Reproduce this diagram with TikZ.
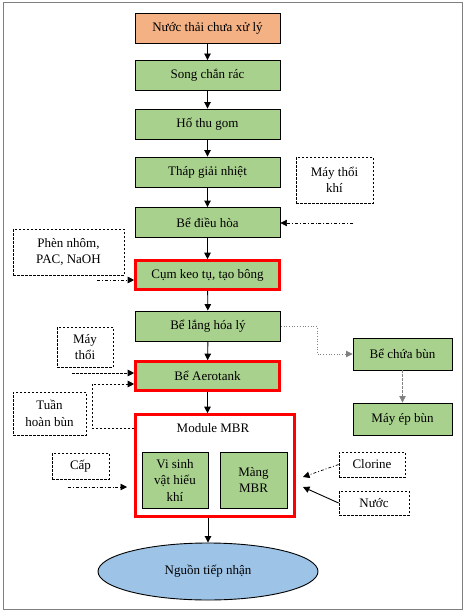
\documentclass[tikz,border=0pt]{standalone}
\usepackage{fontspec}
\setmainfont{Liberation Serif}
\usetikzlibrary{shapes.geometric,arrows.meta}
\definecolor{boxgreen}{HTML}{A9D18E}
\definecolor{srcorange}{HTML}{F4B183}
\definecolor{sinkblue}{HTML}{9DC3E6}
\begin{document}
\begin{tikzpicture}[x=1pt,y=-1pt,
    every node/.style={font=\fontsize{13}{16.5}\selectfont},
    box/.style={draw,fill=boxgreen,line width=0.9pt,minimum width=145pt,minimum height=30pt,inner sep=1pt,align=center},
    hotbox/.style={box,draw=red,line width=2.6pt,minimum width=144pt,minimum height=29pt},
    note/.style={draw,dash pattern=on 2.5pt off 1.5pt,line width=0.8pt,align=center,inner sep=1pt},
    flow/.style={-{Triangle[length=6.5pt,width=6.5pt]},line width=0.9pt},
    feed/.style={flow,dash dot,line width=0.7pt},
    slack/.style={flow,dash pattern=on 2.5pt off 1.5pt,line width=0.7pt}]
      \useasboundingbox (0,0) rectangle (466,615);
      \draw[gray,line width=1pt] (3,3) rectangle (462,609);
      \draw
        (207.5,28) node[box,fill=srcorange] (src){Nước thải chưa xử lý}
        (207.5,75.5) node[box] (song){Song chắn rác}
        (207.5,124) node[box] (hothu){Hố thu gom}
        (207.5,172) node[box] (thap){Tháp giải nhiệt}
        (207.5,222.5) node[box] (dieuhoa){Bể điều hòa}
        (207.5,275) node[hotbox] (keotu){Cụm keo tụ, tạo bông}
        (208,326) node[box] (lang){Bể lắng hóa lý}
        (207.5,376) node[hotbox] (aero){Bể Aerotank}
        (215,465.5) node[draw=red,fill=white,line width=2.6pt,minimum width=159pt,minimum height=102pt] (mbr){}
        (213,428) node (mbrlabel){Module MBR}
        (175,480) node[box,minimum width=66pt,minimum height=56pt] (visinh){Vi sinh\\vật hiếu\\khí}
        (253.5,480) node[box,minimum width=67pt,minimum height=56pt] (mang){Màng\\MBR}
        (208,571.5) node[ellipse,draw,fill=sinkblue,line width=0.9pt,minimum width=220pt,minimum height=57pt] (nguon){Nguồn tiếp nhận}
        (334.5,180) node[note,minimum width=77pt,minimum height=46pt] (maythoikhi){Máy thổi\\khí}
        (402.5,354) node[box,minimum width=99pt,minimum height=32pt] (chuabun){Bể chứa bùn}
        (402.5,419) node[box,minimum width=99pt,minimum height=32pt] (epbun){Máy ép bùn}
        (372,464.5) node[note,minimum width=66pt,minimum height=25pt] (clorine){Clorine}
        (374,503) node[note,minimum width=70pt,minimum height=24pt] (nuoc){Nước}
        (68.5,252) node[note,minimum width=111pt,minimum height=46pt] (phen){Phèn nhôm,\\PAC, NaOH}
        (85,347) node[note,minimum width=56pt,minimum height=40pt] (maythoi){Máy\\thổi}
        (49.5,413.5) node[note,minimum width=73pt,minimum height=43pt] (tuanhoan){Tuần\\hoàn bùn}
        (80.5,466) node[note,minimum width=57pt,minimum height=26pt] (cap){Cấp};
      \coordinate (airin) at (353,223);
      \coordinate (chemin) at (97,280);
      \coordinate (blowin) at (72,373);
      \coordinate (retlo) at (92,428);
      \coordinate (rethi) at (92,384);
      \coordinate (capin) at (68,487);
      \coordinate (capout) at (127,487);
      \coordinate (clotip) at (303,477);
      \coordinate (nuoctip) at (303,487);
      \begin{scope}[flow]
        \draw (src) to (song);
        \draw (song) to (hothu);
        \draw (hothu) to (thap);
        \draw (thap) to (dieuhoa);
        \draw (dieuhoa) to (keotu);
        \draw (keotu) to (lang);
        \draw (lang) to (aero);
        \draw (aero.south) to (aero.south |- mbr.north);
        \draw (mbr.south -| nguon.north) to (nguon.north);
        \draw (nuoc.west) to (nuoctip);
      \end{scope}
      \begin{scope}[feed]
        \draw (airin) to (airin -| dieuhoa.east);
        \draw (chemin) to (chemin -| keotu.west);
        \draw (capin) to (capout);
        \draw (clorine.west) to (clotip);
      \end{scope}
      \begin{scope}[slack]
        \draw (blowin) to (blowin -| aero.west);
        \draw (retlo -| mbr.west) -- (retlo) -- (rethi) -- (rethi -| aero.west);
        \draw[gray,dotted] (lang.east) -- ++(36,0) |- (chuabun.west);
        \draw[gray] (chuabun.south) to (epbun.north);
      \end{scope}
    \end{tikzpicture}
\end{document}
